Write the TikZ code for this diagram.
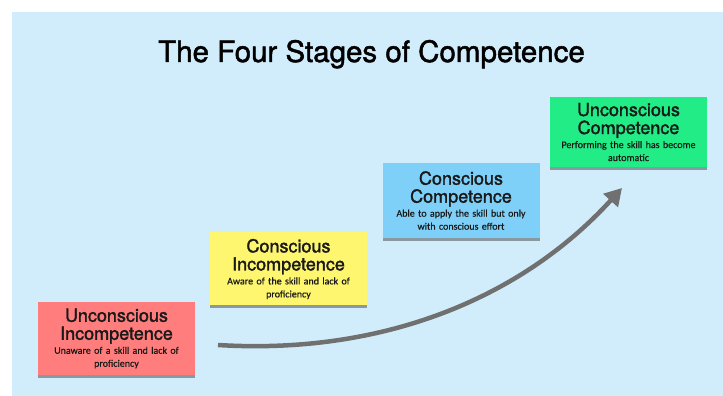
\documentclass[tikz,border=0pt]{standalone}
\usepackage{fontspec}
\setmainfont{TeX Gyre Heros}
\newfontfamily\headfont[FakeBold=1.6]{TeX Gyre Heros}
\newfontfamily\notefont[FakeBold=0.5]{Carlito}
\usetikzlibrary{arrows.meta,shadows}
\definecolor{skyback}{RGB}{209,237,252}
\definecolor{stagered}{RGB}{255,125,125}
\definecolor{stageyellow}{RGB}{255,246,112}
\definecolor{stageblue}{RGB}{126,208,248}
\definecolor{stagegreen}{RGB}{34,236,134}
\definecolor{arrowgray}{RGB}{112,112,112}
\newcommand{\stage}[2]{{\headfont\fontsize{18}{18}\selectfont #1\par}\vskip1pt
  {\notefont\fontsize{10}{13}\selectfont #2\par}}

\begin{document}
\begin{tikzpicture}[x=1pt,y=1pt,
    stagebox/.style={minimum width=157pt,minimum height=73pt,text width=155pt,
      align=center,inner sep=1pt,text=black!90,
      drop shadow={shadow xshift=0pt,shadow yshift=-3pt,opacity=0.45,fill=black!80}},
    growth/.style={line width=4.5pt,draw=arrowgray,
      -{Triangle[length=17pt,width=19pt]}}]
  \useasboundingbox (0,0) rectangle (723,396);
  \fill[skyback] (12,0) rectangle (723,384);
  % title
  \node[anchor=base] (title) at (371.5,334)
    {\headfont\fontsize{29.5}{32}\selectfont The Four Stages of Competence};
  % the four stages
  \node[stagebox,fill=stagered] (uninc) at (116.5,57.5)
    {\stage{Unconscious\\Incompetence}{Unaware of a skill and lack of\\proficiency}};
  \node[stagebox,fill=stageyellow] (coninc) at (288.5,127)
    {\stage{Conscious\\Incompetence}{Aware of the skill and lack of\\proficiency}};
  \node[stagebox,fill=stageblue,minimum height=75pt] (concomp) at (461,195.5)
    {\stage{Conscious\\Competence}{Able to apply the skill but only\\with conscious effort}};
  \node[stagebox,fill=stagegreen,minimum height=70pt] (uncomp) at (628.5,264)
    {\stage{Unconscious\\Competence}{Performing the skill has become\\automatic}};
  % rising arrow
  \coordinate (rise) at (218,51);
  \coordinate (top) at (622,208);
  \draw[growth] (rise) .. controls (380,41) and (520,96) .. (top);
\end{tikzpicture}
\end{document}
